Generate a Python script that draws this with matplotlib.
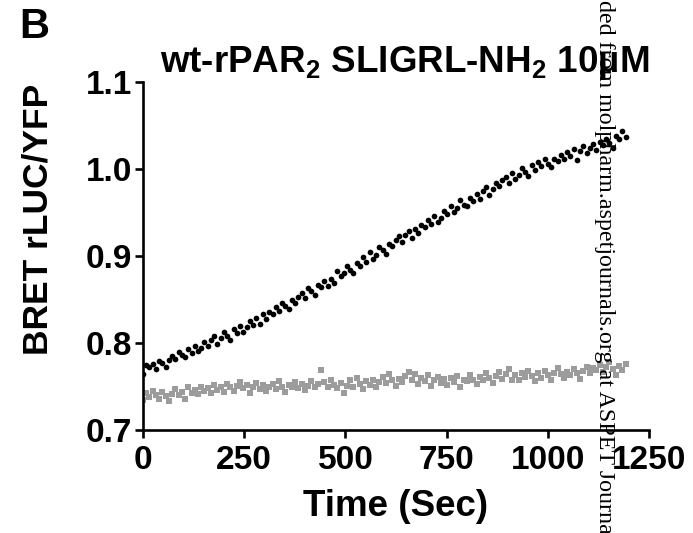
import matplotlib
matplotlib.use("Agg")
import matplotlib.pyplot as plt

# time points (sec), one reading every 8 s
time_sec = list(range(0, 1200, 8))

# agonist response (black dots)
bret_agonist = [
    0.764, 0.775, 0.772, 0.776, 0.770, 0.779, 0.777, 0.773, 0.780, 0.785,
    0.782, 0.790, 0.786, 0.784, 0.793, 0.788, 0.796, 0.791, 0.794, 0.801,
    0.796, 0.804, 0.808, 0.799, 0.806, 0.813, 0.808, 0.803, 0.816, 0.812,
    0.820, 0.813, 0.818, 0.825, 0.821, 0.829, 0.822, 0.833, 0.828, 0.836,
    0.833, 0.841, 0.837, 0.846, 0.842, 0.839, 0.850, 0.846, 0.853, 0.858,
    0.852, 0.863, 0.860, 0.855, 0.867, 0.864, 0.871, 0.866, 0.874, 0.869,
    0.883, 0.877, 0.881, 0.889, 0.884, 0.880, 0.892, 0.888, 0.899, 0.893,
    0.905, 0.896, 0.901, 0.910, 0.907, 0.902, 0.914, 0.911, 0.918, 0.923,
    0.916, 0.924, 0.929, 0.921, 0.931, 0.927, 0.936, 0.933, 0.941, 0.937,
    0.946, 0.939, 0.944, 0.952, 0.948, 0.957, 0.950, 0.955, 0.964, 0.959,
    0.958, 0.967, 0.963, 0.971, 0.966, 0.975, 0.979, 0.970, 0.977, 0.984,
    0.980, 0.987, 0.991, 0.984, 0.995, 0.989, 0.993, 1.001, 0.997, 0.992,
    1.005, 0.999, 1.008, 1.003, 1.011, 1.006, 1.002, 1.012, 1.009, 1.016,
    1.012, 1.019, 1.015, 1.023, 1.010, 1.021, 1.026, 1.018, 1.024, 1.029,
    1.022, 1.031, 1.027, 1.035, 1.030, 1.024, 1.038, 1.034, 1.044, 1.037,
]

# control / baseline (grey squares)
bret_control = [
    0.735, 0.742, 0.738, 0.745, 0.740, 0.736, 0.744, 0.739, 0.733, 0.741,
    0.747, 0.740, 0.744, 0.736, 0.749, 0.743, 0.746, 0.741, 0.750, 0.745,
    0.748, 0.742, 0.752, 0.746, 0.750, 0.744, 0.753, 0.749, 0.745, 0.751,
    0.755, 0.748, 0.752, 0.743, 0.750, 0.754, 0.747, 0.752, 0.745, 0.750,
    0.753, 0.747, 0.756, 0.750, 0.744, 0.752, 0.749, 0.755, 0.748, 0.753,
    0.746, 0.751, 0.756, 0.749, 0.753, 0.769, 0.755, 0.750, 0.758, 0.752,
    0.748, 0.754, 0.743, 0.751, 0.757, 0.750, 0.760, 0.753, 0.747, 0.756,
    0.752, 0.758, 0.749, 0.755, 0.761, 0.754, 0.764, 0.757, 0.751, 0.759,
    0.755, 0.762, 0.767, 0.758, 0.764, 0.753, 0.760, 0.756, 0.763, 0.751,
    0.757, 0.761, 0.754, 0.759, 0.752, 0.760, 0.755, 0.762, 0.749, 0.758,
    0.756, 0.763, 0.758, 0.753, 0.761, 0.757, 0.765, 0.760, 0.754, 0.762,
    0.767, 0.759, 0.764, 0.770, 0.758, 0.763, 0.757, 0.766, 0.761, 0.768,
    0.762, 0.756, 0.765, 0.760, 0.768, 0.763, 0.758, 0.766, 0.771, 0.764,
    0.760, 0.767, 0.763, 0.770, 0.765, 0.759, 0.768, 0.773, 0.766, 0.771,
    0.769, 0.775, 0.767, 0.772, 0.778, 0.770, 0.763, 0.774, 0.769, 0.776,
]

x_ticks = [0, 250, 500, 750, 1000, 1250]
y_ticks = [0.7, 0.8, 0.9, 1.0, 1.1]

sans = "Liberation Sans"
plt.rcParams["font.family"] = [sans, "DejaVu Sans"]
plt.rcParams["font.weight"] = "bold"
plt.rcParams["mathtext.fontset"] = "custom"
plt.rcParams["mathtext.bf"] = sans + ":bold"
plt.rcParams["mathtext.rm"] = sans + ":bold"

fig = plt.figure(figsize=(6.93, 5.33), dpi=100)
ax = fig.add_axes([0.2063, 0.1932, 0.7302, 0.6530])

ax.plot(time_sec, bret_control, linestyle="none", marker="s", markersize=3.7,
        color="#9c9c9c", markeredgewidth=0)
ax.plot(time_sec, bret_agonist, linestyle="none", marker="o", markersize=4.1,
        color="black", markeredgewidth=0)

ax.set_xlim(0, 1250)
ax.set_ylim(0.7, 1.1)
ax.set_xticks(x_ticks)
ax.set_yticks(y_ticks)
ax.set_xticklabels([str(v) for v in x_ticks])
ax.set_yticklabels([f"{v:.1f}" for v in y_ticks])

for side in ("top", "right"):
    ax.spines[side].set_visible(False)
for side in ("left", "bottom"):
    ax.spines[side].set_linewidth(1.9)
ax.tick_params(axis="both", direction="out", length=6, width=1.9,
               labelsize=24)
ax.tick_params(axis="x", pad=5)
ax.tick_params(axis="y", pad=2)

ax.set_xlabel("Time (Sec)", fontsize=26.5, fontweight="bold", va="top")
ax.xaxis.set_label_coords(0.5, -0.17)
ax.set_ylabel("BRET rLUC/YFP", fontsize=25.5, fontweight="bold")
ax.yaxis.set_label_coords(-0.174, 0.604)
ax.set_title(r"wt-rPAR$_\mathbf{2}$ SLIGRL-NH$_\mathbf{2}$ 10µM",
             fontsize=26.5, fontweight="bold", pad=4, x=0.518)

fig.text(19 / 693, 1 - 7 / 533, "B", fontsize=30, fontweight="bold",
         ha="left", va="top")

# journal watermark running down the page
fig.text(0.873, 1.0, "ded from molpharm.aspetjournals.org at ASPET Journa",
         family=["Liberation Serif", "DejaVu Serif"], fontweight="normal",
         fontsize=17.3, rotation=270, ha="center", va="top", color="black")

fig.savefig("out.png", dpi=100)
